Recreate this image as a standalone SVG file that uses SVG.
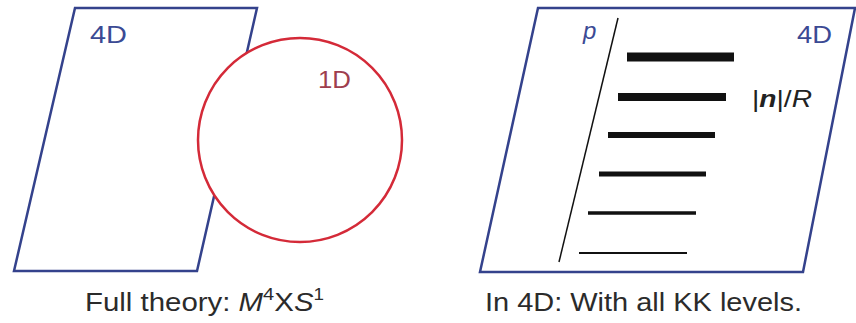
<svg xmlns="http://www.w3.org/2000/svg" width="856" height="323" viewBox="0 0 856 323">
<style>
.frame{fill:none;stroke:#34428c;stroke-width:2.5;stroke-linejoin:miter}
.lbl{font-family:"Liberation Sans",Arial,sans-serif;fill:#3b4a94}
.cap{font-family:"Liberation Sans",Arial,sans-serif;fill:#2b2b2b;font-size:25px}
.bar{stroke:#111;stroke-linecap:butt}
</style>
<rect width="856" height="323" fill="#fff"/>
<g id="plane-left">
<polygon class="frame" points="75,8 257,8 197,271 14,271"/>
<text class="lbl" x="90" y="43" font-size="24" textLength="37" lengthAdjust="spacingAndGlyphs">4D</text>
</g>
<g id="circle-1d">
<circle cx="300" cy="140" r="102" fill="#fff" stroke="#d42a38" stroke-width="2.5"/>
<text x="318" y="88" font-family="'Liberation Sans',Arial,sans-serif" font-size="24" fill="#9e3e4e" textLength="33" lengthAdjust="spacingAndGlyphs">1D</text>
</g>
<g id="caption-left">
<text class="cap" x="85" y="311" textLength="239" lengthAdjust="spacingAndGlyphs">Full theory: <tspan font-style="italic">M</tspan><tspan font-size="17" dy="-11">4</tspan><tspan dy="11">X</tspan><tspan font-style="italic">S</tspan><tspan font-size="16" dy="-11">1</tspan></text>
</g>
<g id="plane-right">
<polygon class="frame" points="538,8 855,8 803,272 480,272"/>
<text class="lbl" x="797" y="43" font-size="23" textLength="35" lengthAdjust="spacingAndGlyphs">4D</text>
<text class="lbl" x="583" y="39" font-size="24" font-style="italic">p</text>
</g>
<g id="connectors">
<line x1="618" y1="18" x2="559" y2="262" stroke="#111" stroke-width="1.5"/>
<line class="bar" x1="627" y1="57" x2="734" y2="57" stroke-width="9"/>
<line class="bar" x1="618" y1="97" x2="726" y2="97" stroke-width="8"/>
<line class="bar" x1="608" y1="135" x2="715" y2="135" stroke-width="6"/>
<line class="bar" x1="599" y1="174" x2="706" y2="174" stroke-width="5"/>
<line class="bar" x1="588" y1="213" x2="696" y2="213" stroke-width="3.5"/>
<line class="bar" x1="579" y1="253" x2="687" y2="253" stroke-width="2"/>
</g>
<g id="label-nR">
<text x="752" y="107" font-family="'Liberation Sans',Arial,sans-serif" font-size="24" fill="#222" textLength="60" lengthAdjust="spacingAndGlyphs">|<tspan font-weight="bold" font-style="italic">n</tspan>|/<tspan font-style="italic">R</tspan></text>
</g>
<g id="caption-right">
<text class="cap" x="485" y="311" textLength="317" lengthAdjust="spacingAndGlyphs">In 4D: With all KK levels.</text>
</g>
</svg>
